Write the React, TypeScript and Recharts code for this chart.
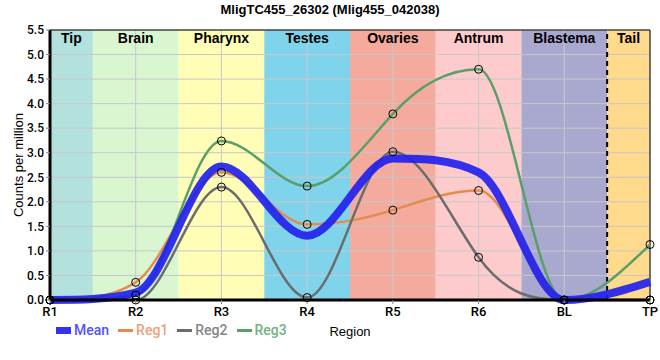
import React from 'react';
import { LineChart, Line, XAxis, YAxis, ReferenceArea, ReferenceLine } from 'recharts';

const title = 'MligTC455_26302 (Mlig455_042038)';
const categories = ['R1', 'R2', 'R3', 'R4', 'R5', 'R6', 'BL', 'TP'];
const meanValues = [0.0, 0.15, 2.72, 1.31, 2.88, 2.6, 0.0, 0.37];
const reg1Values = [0.0, 0.36, 2.6, 1.54, 1.83, 2.23, 0.0, 0.0];
const reg2Values = [0.0, 0.0, 2.3, 0.05, 3.02, 0.87, 0.0, 0.0];
const reg3Values = [0.0, 0.1, 3.24, 2.32, 3.79, 4.7, 0.0, 1.13];
const regionNames = ['Tip', 'Brain', 'Pharynx', 'Testes', 'Ovaries', 'Antrum', 'Blastema', 'Tail'];
const regionColors = ['#b3e2de', '#d9f6d0', '#fffdb6', '#7fd4eb', '#f4aa9d', '#fdcbcc', '#a9a8cf', '#ffd98c'];
const yTicks = [0, 0.5, 1, 1.5, 2, 2.5, 3, 3.5, 4, 4.5, 5, 5.5];

const seriesNames = ['Mean', 'Reg1', 'Reg2', 'Reg3'];
const seriesColors = ['#2222ee', '#e28c4e', '#6c6c6c', '#5a9f69'];
const legendTextColors = ['#5252ff', '#eba27a', '#858585', '#72b381'];

const data = categories.map((c, i) => ({
  x: i,
  cat: c,
  mean: meanValues[i],
  reg1: reg1Values[i],
  reg2: reg2Values[i],
  reg3: reg3Values[i],
}));

const lastIdx = categories.length - 1;
const xTicks = categories.map((_, i) => i);

// Monotone cubic Hermite curve with steeper (but still monotone) tangents.
const TANGENT_GAIN = 1.6;
function smoothCurve(context: any) {
  let xs: number[] = [];
  let ys: number[] = [];
  return {
    areaStart() {},
    areaEnd() {},
    lineStart() {
      xs = [];
      ys = [];
    },
    point(x: number, y: number) {
      xs.push(+x);
      ys.push(+y);
    },
    lineEnd() {
      const n = xs.length;
      if (n === 0) return;
      context.moveTo(xs[0], ys[0]);
      if (n === 1) return;
      if (n === 2) {
        context.lineTo(xs[1], ys[1]);
        return;
      }
      const h: number[] = [];
      const s: number[] = [];
      for (let i = 0; i < n - 1; i++) {
        h[i] = xs[i + 1] - xs[i];
        s[i] = h[i] ? (ys[i + 1] - ys[i]) / h[i] : 0;
      }
      const m: number[] = new Array(n).fill(0);
      for (let i = 1; i < n - 1; i++) {
        const s0 = s[i - 1];
        const s1 = s[i];
        if (s0 * s1 <= 0) {
          m[i] = 0;
        } else {
          const p = (s0 * h[i] + s1 * h[i - 1]) / (h[i - 1] + h[i]);
          const base = Math.min(Math.abs(s0), Math.abs(s1), 0.5 * Math.abs(p)) * 2;
          const lim = 3 * Math.min(Math.abs(s0), Math.abs(s1));
          m[i] = Math.sign(s0) * Math.min(base * TANGENT_GAIN, lim);
        }
      }
      m[0] = (3 * s[0] - m[1]) / 2;
      if (m[0] * s[0] <= 0) m[0] = 0;
      m[n - 1] = (3 * s[n - 2] - m[n - 2]) / 2;
      if (m[n - 1] * s[n - 2] <= 0) m[n - 1] = 0;
      for (let i = 0; i < n - 1; i++) {
        const dx = h[i] / 3;
        context.bezierCurveTo(
          xs[i] + dx,
          ys[i] + dx * m[i],
          xs[i + 1] - dx,
          ys[i + 1] - dx * m[i + 1],
          xs[i + 1],
          ys[i + 1]
        );
      }
    },
  };
}

const dotStyle = { r: 4, stroke: '#000', strokeWidth: 1, fill: 'none' };
const gridColor = '#c8c8c8';

export default function App() {
  return (
    <div style={{ position: 'absolute', left: 0, top: 0, width: 660, height: 360, background: '#fff' }}>
      <div
        style={{
          position: 'absolute',
          top: 2,
          left: 0,
          width: 660,
          textAlign: 'center',
          fontFamily: '"Liberation Sans", Arial, sans-serif',
          fontWeight: 'bold',
          fontSize: 13,
          color: '#000',
        }}
      >
        {title}
      </div>
      <LineChart width={660} height={360} data={data} margin={{ top: 30, right: 10, bottom: 30, left: 10 }}>
        {regionNames.map((name, i) => (
          <ReferenceArea
            key={name}
            x1={Math.max(0, i - 0.5)}
            x2={Math.min(lastIdx, i + 0.5)}
            y1={0}
            y2={5.5}
            fill={regionColors[i]}
            fillOpacity={1}
            stroke="none"
            ifOverflow="visible"
            label={{
              value: name,
              position: 'insideTop',
              offset: 3,
              fill: '#000',
              fontSize: 14,
              fontWeight: 'bold',
              fontFamily: '"Liberation Sans", Arial, sans-serif',
            }}
          />
        ))}
        {yTicks.map((t) => (
          <ReferenceLine key={'gy' + t} y={t} stroke={gridColor} strokeWidth={1} />
        ))}
        {xTicks.map((t) => (
          <ReferenceLine key={'gx' + t} x={t} stroke={gridColor} strokeWidth={1} />
        ))}
        <ReferenceLine x={6.5} stroke="#000" strokeWidth={2} strokeDasharray="5 4" />
        <ReferenceLine y={5.5} stroke="#000" strokeWidth={1} />
        <ReferenceLine x={lastIdx} stroke="#000" strokeWidth={1} />
        <XAxis
          dataKey="x"
          type="number"
          domain={[0, lastIdx]}
          ticks={xTicks}
          tickFormatter={(v: number) => categories[v]}
          height={30}
          axisLine={{ stroke: '#000', strokeWidth: 3 }}
          tickLine={{ stroke: '#888' }}
          tickSize={4}
          tick={{ fill: '#000', fontSize: 13, fontWeight: 500, fontFamily: 'Roboto, sans-serif' }}
          tickMargin={3}
          label={{
            value: 'Region',
            position: 'insideBottom',
            offset: -6,
            fill: '#000',
            fontSize: 13,
            fontFamily: '"Liberation Sans", Arial, sans-serif',
          }}
        />
        <YAxis
          type="number"
          domain={[0, 5.5]}
          ticks={yTicks}
          tickFormatter={(v: number) => v.toFixed(1)}
          width={40}
          axisLine={{ stroke: '#000', strokeWidth: 3 }}
          tickLine={{ stroke: '#888' }}
          tickSize={4}
          tick={{ fill: '#000', fontSize: 12, fontWeight: 500, fontFamily: 'Roboto, sans-serif' }}
          label={{
            value: 'Counts per million',
            angle: -90,
            position: 'insideLeft',
            offset: 8,
            textAnchor: 'middle',
            style: { textAnchor: 'middle' },
            fill: '#000',
            fontSize: 13,
            fontFamily: '"Liberation Sans", Arial, sans-serif',
          }}
        />
        <Line dataKey="reg1" type={smoothCurve as any} stroke={seriesColors[1]} strokeWidth={2.5} dot={false} isAnimationActive={false} />
        <Line dataKey="reg2" type={smoothCurve as any} stroke={seriesColors[2]} strokeWidth={2.5} dot={false} isAnimationActive={false} />
        <Line dataKey="reg3" type={smoothCurve as any} stroke={seriesColors[3]} strokeWidth={2.5} dot={false} isAnimationActive={false} />
        <Line dataKey="mean" type={smoothCurve as any} stroke={seriesColors[0]} strokeOpacity={0.92} strokeWidth={8} dot={false} isAnimationActive={false} />
        <Line dataKey="reg1" type="linear" stroke="none" dot={dotStyle} isAnimationActive={false} legendType="none" />
        <Line dataKey="reg2" type="linear" stroke="none" dot={dotStyle} isAnimationActive={false} legendType="none" />
        <Line dataKey="reg3" type="linear" stroke="none" dot={dotStyle} isAnimationActive={false} legendType="none" />
      </LineChart>
      <div
        style={{
          position: 'absolute',
          left: 56,
          top: 321,
          display: 'flex',
          alignItems: 'center',
          fontFamily: 'Roboto, sans-serif',
          fontSize: 14,
          fontWeight: 500,
          lineHeight: '18px',
        }}
      >
        {seriesNames.map((name, i) => (
          <div key={name} style={{ display: 'flex', alignItems: 'center', marginRight: 9 }}>
            <div
              style={{
                width: 15,
                height: i === 0 ? 7 : 3,
                background: seriesColors[i],
                opacity: i === 0 ? 0.92 : 1,
                marginRight: 3,
              }}
            />
            <span style={{ color: legendTextColors[i] }}>{name}</span>
          </div>
        ))}
      </div>
    </div>
  );
}
